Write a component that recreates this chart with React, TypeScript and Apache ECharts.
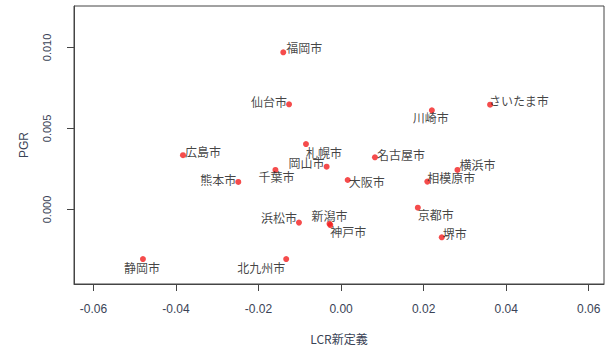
import React, { useEffect, useRef } from "react";
import * as echarts from "echarts";

const cities = ["福岡市", "仙台市", "札幌市", "岡山市", "名古屋市", "広島市", "熊本市", "千葉市", "大阪市", "川崎市", "さいたま市", "横浜市", "相模原市", "京都市", "堺市", "浜松市", "新潟市", "神戸市", "北九州市", "静岡市"];
const lcr = [-0.014, -0.0126, -0.0085, -0.0035, 0.0082, -0.0383, -0.0249, -0.0159, 0.0016, 0.022, 0.0361, 0.0282, 0.0209, 0.0186, 0.0244, -0.0102, -0.0028, -0.0026, -0.0133, -0.048];
const pgr = [0.0097, 0.00649, 0.00404, 0.00264, 0.00322, 0.00335, 0.0017, 0.00244, 0.00182, 0.00612, 0.00647, 0.00244, 0.00172, 0.00011, -0.00172, -0.00081, -0.00088, -0.00096, -0.00306, -0.00306];
const xTicks = [-0.06, -0.04, -0.02, 0.0, 0.02, 0.04, 0.06];
const yTicks = [0.0, 0.005, 0.01];

// label placement: [dx, dy, align] relative to point centre (layout, not data)
const labelPlace: [number, number, string][] = [
  [3, -5, "left"], [-2, -3, "right"], [0, 8, "left"], [-2, -4, "right"], [2, -3, "left"],
  [2, -4, "left"], [-2, -2, "right"], [1, 7, "center"], [1, 2, "left"], [-1, 7, "center"],
  [-1, -4, "left"], [2, -5, "left"], [0, -4, "left"], [0, 7, "left"], [1, -4, "left"],
  [-2, -5, "right"], [0, -8, "center"], [0, 6, "left"], [-1, 8, "right"], [-1, 8, "center"],
];

const tickColor = "#3a4356";
const latin = "'Liberation Sans', Arial, sans-serif";
const cjk = "'Noto Sans CJK JP', 'Liberation Sans', sans-serif";

export default function App() {
  const ref = useRef<HTMLDivElement>(null);
  useEffect(() => {
    document.body.style.margin = "0";
    const chart = echarts.init(ref.current!, null, { renderer: "svg" });
    const data = cities.map((c, i) => {
      const [dx, dy, align] = labelPlace[i];
      return {
        name: c,
        value: [lcr[i], pgr[i]],
        label: {
          show: true,
          formatter: c,
          position: [3 + dx, 3 + dy],
          align,
          verticalAlign: "middle",
        },
      };
    });
    chart.setOption({
      animation: false,
      grid: {
        left: 74, top: 6, right: 4, bottom: 65,
        outerBoundsMode: "none",
        containLabel: false,
        show: true, borderColor: "#444", borderWidth: 1, backgroundColor: "transparent",
      },
      xAxis: {
        type: "value",
        min: -0.0647, max: 0.0637,
        name: "LCR新定義", nameLocation: "middle", nameGap: 48,
        nameTextStyle: { fontFamily: cjk, fontSize: 12, color: tickColor },
        splitLine: { show: false },
        axisLine: { show: true, onZero: false, lineStyle: { color: "#444" } },
        axisTick: { show: true, length: 7, lineStyle: { color: "#444" }, customValues: xTicks },
        axisLabel: {
          fontFamily: latin, fontSize: 12, color: tickColor, margin: 19,
          customValues: xTicks,
          formatter: (v: number) => v.toFixed(2),
        },
      },
      yAxis: {
        type: "value",
        min: -0.0046, max: 0.01256,
        name: "PGR", nameLocation: "middle", nameGap: 44,
        nameTextStyle: { fontFamily: latin, fontSize: 12, color: tickColor },
        splitLine: { show: false },
        axisLine: { show: true, onZero: false, lineStyle: { color: "#444" } },
        axisTick: { show: true, length: 7, lineStyle: { color: "#444" }, customValues: yTicks },
        axisLabel: {
          fontFamily: latin, fontSize: 11, color: tickColor, margin: 22, rotate: 90,
          customValues: yTicks,
          formatter: (v: number) => v.toFixed(3),
        },
      },
      series: [
        {
          type: "scatter",
          symbol: "circle",
          symbolSize: 6,
          itemStyle: { color: "#f21f1f" },
          label: { fontFamily: cjk, fontSize: 12, color: "#111" },
          data,
        },
      ],
    });
    return () => chart.dispose();
  }, []);
  return <div ref={ref} style={{ width: 608, height: 349 }} />;
}
